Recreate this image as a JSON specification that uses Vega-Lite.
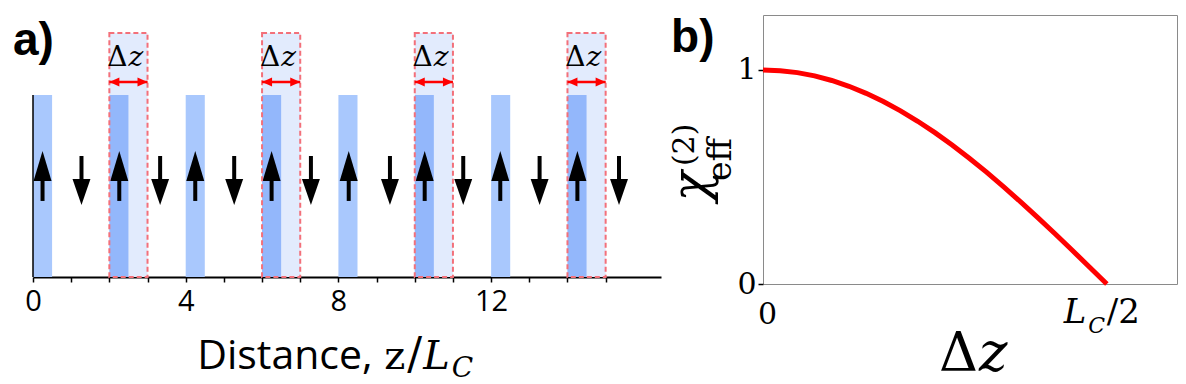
{
  "$schema": "https://vega.github.io/schema/vega-lite/v6.json",
  "padding": {"left": 12, "top": 14, "right": 0, "bottom": 0},
  "background": "white",
  "config": {
    "view": {"stroke": null},
    "font": "Open Sans",
    "axisY": {"labelFont": "DejaVu Serif", "labelFontSize": 30, "labelColor": "black", "labelPadding": 2, "tickColor": "black", "tickWidth": 1.5, "tickSize": 5, "domain": false, "grid": false, "labelFlush": false, "labelOverlap": false}
  },
  "datasets": {
    "light": [{"z0": 0, "z1": 0.5}, {"z0": 4, "z1": 4.5}, {"z0": 8, "z1": 8.5}, {"z0": 12, "z1": 12.5}],
    "boxes": [{"z0": 2, "zm": 2.5, "z1": 3}, {"z0": 6, "zm": 6.5, "z1": 7}, {"z0": 10, "zm": 10.5, "z1": 11}, {"z0": 14, "zm": 14.5, "z1": 15}],
    "up": [{"z": 0.25}, {"z": 2.26}, {"z": 4.25}, {"z": 6.25}, {"z": 8.27}, {"z": 10.26}, {"z": 12.24}, {"z": 14.26}],
    "down": [{"z": 1.27}, {"z": 3.33}, {"z": 5.27}, {"z": 7.28}, {"z": 9.35}, {"z": 11.27}, {"z": 13.27}, {"z": 15.35}],
    "texts": [{"t": "a)"}],
    "curve": [
      {"dz": 0, "chi": 1}, {"dz": 0.025, "chi": 0.9969}, {"dz": 0.05, "chi": 0.9877}, {"dz": 0.075, "chi": 0.9724},
      {"dz": 0.1, "chi": 0.9511}, {"dz": 0.125, "chi": 0.9239}, {"dz": 0.15, "chi": 0.891}, {"dz": 0.175, "chi": 0.8526},
      {"dz": 0.2, "chi": 0.809}, {"dz": 0.225, "chi": 0.7604}, {"dz": 0.25, "chi": 0.7071}, {"dz": 0.275, "chi": 0.6494},
      {"dz": 0.3, "chi": 0.5878}, {"dz": 0.325, "chi": 0.5225}, {"dz": 0.35, "chi": 0.454}, {"dz": 0.375, "chi": 0.3827},
      {"dz": 0.4, "chi": 0.309}, {"dz": 0.425, "chi": 0.2334}, {"dz": 0.45, "chi": 0.1564}, {"dz": 0.475, "chi": 0.0785},
      {"dz": 0.5, "chi": 0}
    ]
  },
  "bounds": "flush",
  "spacing": 102,
  "hconcat": [
    {
      "width": 628,
      "height": 262,
      "layer": [
        {
          "data": {"name": "boxes"},
          "mark": {"type": "rect", "fill": "#e2ebfd"},
          "encoding": {
            "x": {"field": "z0", "type": "quantitative", "title": null, "scale": {"domain": [0, 16.45], "nice": false, "zero": false},
              "axis": {"values": [0,1,2,3,4,5,6,7,8,9,10,11,12,13,14,15], "labelExpr": "datum.value % 4 === 0 ? datum.label : ''",
                "title": null, "grid": false, "domainColor": "black", "domainWidth": 1.8, "tickColor": "black", "tickWidth": 1.5,
                "tickSize": 5, "labelFont": "Open Sans", "labelFontSize": 29, "labelColor": "black", "labelPadding": 5,
                "labelFlush": false, "labelOverlap": false, "labelBound": false}},
            "x2": {"field": "z1"},
            "y": {"datum": 0, "type": "quantitative", "scale": {"domain": [0, 1.44], "nice": false, "zero": false}, "axis": null},
            "y2": {"datum": 1.341}
          }
        },
        {
          "data": {"name": "light"},
          "mark": {"type": "rect", "fill": "#a9c8fd"},
          "encoding": {
            "x": {"field": "z0", "type": "quantitative", "axis": {"values": [0,1,2,3,4,5,6,7,8,9,10,11,12,13,14,15], "labelExpr": "datum.value % 4 === 0 ? datum.label : ''",
                "title": null, "grid": false, "domainColor": "black", "domainWidth": 1.8, "tickColor": "black", "tickWidth": 1.5,
                "tickSize": 5, "labelFont": "Open Sans", "labelFontSize": 29, "labelColor": "black", "labelPadding": 5,
                "labelFlush": false, "labelOverlap": false, "labelBound": false}},
            "x2": {"field": "z1"},
            "y": {"datum": 0, "type": "quantitative", "axis": null},
            "y2": {"datum": 1}
          }
        },
        {
          "data": {"name": "boxes"},
          "mark": {"type": "rect", "fill": "#93b7fb"},
          "encoding": {
            "x": {"field": "z0", "type": "quantitative", "axis": {"values": [0,1,2,3,4,5,6,7,8,9,10,11,12,13,14,15], "labelExpr": "datum.value % 4 === 0 ? datum.label : ''",
                "title": null, "grid": false, "domainColor": "black", "domainWidth": 1.8, "tickColor": "black", "tickWidth": 1.5,
                "tickSize": 5, "labelFont": "Open Sans", "labelFontSize": 29, "labelColor": "black", "labelPadding": 5,
                "labelFlush": false, "labelOverlap": false, "labelBound": false}},
            "x2": {"field": "zm"},
            "y": {"datum": 0, "type": "quantitative", "axis": null},
            "y2": {"datum": 1}
          }
        },
        {
          "data": {"values": [{"z": 0}]},
          "mark": {"type": "rule", "color": "black", "strokeWidth": 1.5},
          "encoding": {
            "x": {"field": "z", "type": "quantitative", "axis": {"values": [0,1,2,3,4,5,6,7,8,9,10,11,12,13,14,15], "labelExpr": "datum.value % 4 === 0 ? datum.label : ''",
                "title": null, "grid": false, "domainColor": "black", "domainWidth": 1.8, "tickColor": "black", "tickWidth": 1.5,
                "tickSize": 5, "labelFont": "Open Sans", "labelFontSize": 29, "labelColor": "black", "labelPadding": 5,
                "labelFlush": false, "labelOverlap": false, "labelBound": false}},
            "y": {"datum": 0, "type": "quantitative", "axis": null},
            "y2": {"datum": 1}
          }
        },
        {
          "data": {"name": "up"},
          "mark": {"type": "rule", "color": "black", "strokeWidth": 4},
          "encoding": {
            "x": {"field": "z", "type": "quantitative", "axis": {"values": [0,1,2,3,4,5,6,7,8,9,10,11,12,13,14,15], "labelExpr": "datum.value % 4 === 0 ? datum.label : ''",
                "title": null, "grid": false, "domainColor": "black", "domainWidth": 1.8, "tickColor": "black", "tickWidth": 1.5,
                "tickSize": 5, "labelFont": "Open Sans", "labelFontSize": 29, "labelColor": "black", "labelPadding": 5,
                "labelFlush": false, "labelOverlap": false, "labelBound": false}},
            "y": {"datum": 0.418, "type": "quantitative", "axis": null},
            "y2": {"datum": 0.56}
          }
        },
        {
          "data": {"name": "up"},
          "mark": {"type": "point", "shape": "M0,0L0.6,2L-0.6,2Z", "size": 900, "filled": true, "fill": "black", "strokeWidth": 0, "opacity": 1},
          "encoding": {
            "x": {"field": "z", "type": "quantitative", "axis": {"values": [0,1,2,3,4,5,6,7,8,9,10,11,12,13,14,15], "labelExpr": "datum.value % 4 === 0 ? datum.label : ''",
                "title": null, "grid": false, "domainColor": "black", "domainWidth": 1.8, "tickColor": "black", "tickWidth": 1.5,
                "tickSize": 5, "labelFont": "Open Sans", "labelFontSize": 29, "labelColor": "black", "labelPadding": 5,
                "labelFlush": false, "labelOverlap": false, "labelBound": false}},
            "y": {"datum": 0.693, "type": "quantitative", "axis": null}
          }
        },
        {
          "data": {"name": "down"},
          "mark": {"type": "rule", "color": "black", "strokeWidth": 4},
          "encoding": {
            "x": {"field": "z", "type": "quantitative", "axis": {"values": [0,1,2,3,4,5,6,7,8,9,10,11,12,13,14,15], "labelExpr": "datum.value % 4 === 0 ? datum.label : ''",
                "title": null, "grid": false, "domainColor": "black", "domainWidth": 1.8, "tickColor": "black", "tickWidth": 1.5,
                "tickSize": 5, "labelFont": "Open Sans", "labelFontSize": 29, "labelColor": "black", "labelPadding": 5,
                "labelFlush": false, "labelOverlap": false, "labelBound": false}},
            "y": {"datum": 0.665, "type": "quantitative", "axis": null},
            "y2": {"datum": 0.47}
          }
        },
        {
          "data": {"name": "down"},
          "mark": {"type": "point", "shape": "M0,0L0.69,-2L-0.69,-2Z", "size": 676, "filled": true, "fill": "black", "strokeWidth": 0, "opacity": 1},
          "encoding": {
            "x": {"field": "z", "type": "quantitative", "axis": {"values": [0,1,2,3,4,5,6,7,8,9,10,11,12,13,14,15], "labelExpr": "datum.value % 4 === 0 ? datum.label : ''",
                "title": null, "grid": false, "domainColor": "black", "domainWidth": 1.8, "tickColor": "black", "tickWidth": 1.5,
                "tickSize": 5, "labelFont": "Open Sans", "labelFontSize": 29, "labelColor": "black", "labelPadding": 5,
                "labelFlush": false, "labelOverlap": false, "labelBound": false}},
            "y": {"datum": 0.396, "type": "quantitative", "axis": null}
          }
        },
        {
          "data": {"name": "boxes"},
          "mark": {"type": "rect", "filled": false, "stroke": "#f3707a", "strokeDash": [5, 3], "strokeWidth": 2},
          "encoding": {
            "x": {"field": "z0", "type": "quantitative", "axis": {"values": [0,1,2,3,4,5,6,7,8,9,10,11,12,13,14,15], "labelExpr": "datum.value % 4 === 0 ? datum.label : ''",
                "title": null, "grid": false, "domainColor": "black", "domainWidth": 1.8, "tickColor": "black", "tickWidth": 1.5,
                "tickSize": 5, "labelFont": "Open Sans", "labelFontSize": 29, "labelColor": "black", "labelPadding": 5,
                "labelFlush": false, "labelOverlap": false, "labelBound": false}},
            "x2": {"field": "z1"},
            "y": {"datum": 0, "type": "quantitative", "axis": null},
            "y2": {"datum": 1.341}
          }
        },
        {
          "data": {"name": "boxes"},
          "mark": {"type": "rule", "color": "#ff0000", "strokeWidth": 2.5},
          "encoding": {
            "x": {"field": "z0", "type": "quantitative", "axis": {"values": [0,1,2,3,4,5,6,7,8,9,10,11,12,13,14,15], "labelExpr": "datum.value % 4 === 0 ? datum.label : ''",
                "title": null, "grid": false, "domainColor": "black", "domainWidth": 1.8, "tickColor": "black", "tickWidth": 1.5,
                "tickSize": 5, "labelFont": "Open Sans", "labelFontSize": 29, "labelColor": "black", "labelPadding": 5,
                "labelFlush": false, "labelOverlap": false, "labelBound": false}},
            "x2": {"field": "z1"},
            "y": {"datum": 1.072, "type": "quantitative", "axis": null}
          }
        },
        {
          "data": {"name": "boxes"},
          "mark": {"type": "point", "shape": "M0,0L2,-0.9L2,0.9Z", "size": 100, "filled": true, "fill": "#ff0000", "strokeWidth": 0, "opacity": 1},
          "encoding": {
            "x": {"field": "z0", "type": "quantitative", "axis": {"values": [0,1,2,3,4,5,6,7,8,9,10,11,12,13,14,15], "labelExpr": "datum.value % 4 === 0 ? datum.label : ''",
                "title": null, "grid": false, "domainColor": "black", "domainWidth": 1.8, "tickColor": "black", "tickWidth": 1.5,
                "tickSize": 5, "labelFont": "Open Sans", "labelFontSize": 29, "labelColor": "black", "labelPadding": 5,
                "labelFlush": false, "labelOverlap": false, "labelBound": false}},
            "y": {"datum": 1.072, "type": "quantitative", "axis": null}
          }
        },
        {
          "data": {"name": "boxes"},
          "mark": {"type": "point", "shape": "M0,0L-2,-0.9L-2,0.9Z", "size": 100, "filled": true, "fill": "#ff0000", "strokeWidth": 0, "opacity": 1},
          "encoding": {
            "x": {"field": "z1", "type": "quantitative", "axis": {"values": [0,1,2,3,4,5,6,7,8,9,10,11,12,13,14,15], "labelExpr": "datum.value % 4 === 0 ? datum.label : ''",
                "title": null, "grid": false, "domainColor": "black", "domainWidth": 1.8, "tickColor": "black", "tickWidth": 1.5,
                "tickSize": 5, "labelFont": "Open Sans", "labelFontSize": 29, "labelColor": "black", "labelPadding": 5,
                "labelFlush": false, "labelOverlap": false, "labelBound": false}},
            "y": {"datum": 1.072, "type": "quantitative", "axis": null}
          }
        },
        {
          "data": {"name": "boxes"},
          "mark": {"type": "text", "text": "Δ", "align": "right", "baseline": "alphabetic", "dx": -1, "font": "DejaVu Serif", "fontSize": 28, "color": "black"},
          "encoding": {
            "x": {"field": "zm", "type": "quantitative", "axis": {"values": [0,1,2,3,4,5,6,7,8,9,10,11,12,13,14,15], "labelExpr": "datum.value % 4 === 0 ? datum.label : ''",
                "title": null, "grid": false, "domainColor": "black", "domainWidth": 1.8, "tickColor": "black", "tickWidth": 1.5,
                "tickSize": 5, "labelFont": "Open Sans", "labelFontSize": 29, "labelColor": "black", "labelPadding": 5,
                "labelFlush": false, "labelOverlap": false, "labelBound": false}},
            "y": {"datum": 1.16, "type": "quantitative", "axis": null}
          }
        },
        {
          "data": {"name": "boxes"},
          "mark": {"type": "text", "text": "z", "align": "left", "baseline": "alphabetic", "font": "DejaVu Serif", "fontStyle": "italic", "fontSize": 28, "color": "black"},
          "encoding": {
            "x": {"field": "zm", "type": "quantitative", "axis": {"values": [0,1,2,3,4,5,6,7,8,9,10,11,12,13,14,15], "labelExpr": "datum.value % 4 === 0 ? datum.label : ''",
                "title": null, "grid": false, "domainColor": "black", "domainWidth": 1.8, "tickColor": "black", "tickWidth": 1.5,
                "tickSize": 5, "labelFont": "Open Sans", "labelFontSize": 29, "labelColor": "black", "labelPadding": 5,
                "labelFlush": false, "labelOverlap": false, "labelBound": false}},
            "y": {"datum": 1.16, "type": "quantitative", "axis": null}
          }
        },
        {
          "data": {"values": [{"t": "a)", "x": -0.524, "y": 1.22, "font": "Liberation Sans", "size": 46, "style": "normal", "weight": "bold"}]},
          "mark": {"type": "text", "align": "left", "baseline": "alphabetic", "font": "Liberation Sans", "fontWeight": "bold", "fontSize": 46, "color": "black"},
          "encoding": {
            "text": {"field": "t"},
            "x": {"datum": -0.524, "type": "quantitative", "axis": {"values": [0,1,2,3,4,5,6,7,8,9,10,11,12,13,14,15], "labelExpr": "datum.value % 4 === 0 ? datum.label : ''",
                "title": null, "grid": false, "domainColor": "black", "domainWidth": 1.8, "tickColor": "black", "tickWidth": 1.5,
                "tickSize": 5, "labelFont": "Open Sans", "labelFontSize": 29, "labelColor": "black", "labelPadding": 5,
                "labelFlush": false, "labelOverlap": false, "labelBound": false}},
            "y": {"datum": 1.22, "type": "quantitative", "axis": null}
          }
        },
        {
          "data": {"values": [{"t": "Distance,"}]},
          "mark": {"type": "text", "align": "left", "baseline": "alphabetic", "font": "Open Sans", "fontSize": 41, "color": "black"},
          "encoding": {
            "text": {"field": "t"},
            "x": {"datum": 4.3, "type": "quantitative", "axis": {"values": [0,1,2,3,4,5,6,7,8,9,10,11,12,13,14,15], "labelExpr": "datum.value % 4 === 0 ? datum.label : ''",
                "title": null, "grid": false, "domainColor": "black", "domainWidth": 1.8, "tickColor": "black", "tickWidth": 1.5,
                "tickSize": 5, "labelFont": "Open Sans", "labelFontSize": 29, "labelColor": "black", "labelPadding": 5,
                "labelFlush": false, "labelOverlap": false, "labelBound": false}},
            "y": {"datum": -0.506, "type": "quantitative", "axis": null}
          }
        },
        {
          "data": {"values": [{"t": "z"}]},
          "mark": {"type": "text", "align": "left", "baseline": "alphabetic", "font": "DejaVu Serif", "fontSize": 40, "color": "black"},
          "encoding": {
            "text": {"field": "t"},
            "x": {"datum": 9.2, "type": "quantitative", "axis": {"values": [0,1,2,3,4,5,6,7,8,9,10,11,12,13,14,15], "labelExpr": "datum.value % 4 === 0 ? datum.label : ''",
                "title": null, "grid": false, "domainColor": "black", "domainWidth": 1.8, "tickColor": "black", "tickWidth": 1.5,
                "tickSize": 5, "labelFont": "Open Sans", "labelFontSize": 29, "labelColor": "black", "labelPadding": 5,
                "labelFlush": false, "labelOverlap": false, "labelBound": false}},
            "y": {"datum": -0.506, "type": "quantitative", "axis": null}
          }
        },
        {
          "data": {"values": [{"t": "/"}]},
          "mark": {"type": "text", "align": "left", "baseline": "alphabetic", "font": "DejaVu Serif", "fontSize": 44, "color": "black"},
          "encoding": {
            "text": {"field": "t"},
            "x": {"datum": 9.8, "type": "quantitative", "axis": {"values": [0,1,2,3,4,5,6,7,8,9,10,11,12,13,14,15], "labelExpr": "datum.value % 4 === 0 ? datum.label : ''",
                "title": null, "grid": false, "domainColor": "black", "domainWidth": 1.8, "tickColor": "black", "tickWidth": 1.5,
                "tickSize": 5, "labelFont": "Open Sans", "labelFontSize": 29, "labelColor": "black", "labelPadding": 5,
                "labelFlush": false, "labelOverlap": false, "labelBound": false}},
            "y": {"datum": -0.506, "type": "quantitative", "axis": null}
          }
        },
        {
          "data": {"values": [{"t": "L"}]},
          "mark": {"type": "text", "align": "left", "baseline": "alphabetic", "font": "DejaVu Serif", "fontStyle": "italic", "fontSize": 40, "color": "black"},
          "encoding": {
            "text": {"field": "t"},
            "x": {"datum": 10.22, "type": "quantitative", "axis": {"values": [0,1,2,3,4,5,6,7,8,9,10,11,12,13,14,15], "labelExpr": "datum.value % 4 === 0 ? datum.label : ''",
                "title": null, "grid": false, "domainColor": "black", "domainWidth": 1.8, "tickColor": "black", "tickWidth": 1.5,
                "tickSize": 5, "labelFont": "Open Sans", "labelFontSize": 29, "labelColor": "black", "labelPadding": 5,
                "labelFlush": false, "labelOverlap": false, "labelBound": false}},
            "y": {"datum": -0.506, "type": "quantitative", "axis": null}
          }
        },
        {
          "data": {"values": [{"t": "C"}]},
          "mark": {"type": "text", "align": "left", "baseline": "alphabetic", "font": "DejaVu Serif", "fontStyle": "italic", "fontSize": 28, "color": "black"},
          "encoding": {
            "text": {"field": "t"},
            "x": {"datum": 10.97, "type": "quantitative", "axis": {"values": [0,1,2,3,4,5,6,7,8,9,10,11,12,13,14,15], "labelExpr": "datum.value % 4 === 0 ? datum.label : ''",
                "title": null, "grid": false, "domainColor": "black", "domainWidth": 1.8, "tickColor": "black", "tickWidth": 1.5,
                "tickSize": 5, "labelFont": "Open Sans", "labelFontSize": 29, "labelColor": "black", "labelPadding": 5,
                "labelFlush": false, "labelOverlap": false, "labelBound": false}},
            "y": {"datum": -0.55, "type": "quantitative", "axis": null}
          }
        }
      ]
    },
    {
      "width": 414,
      "height": 269,
      "view": {"stroke": "#8a8a8a", "strokeWidth": 1},
      "layer": [
        {
          "data": {"name": "curve"},
          "mark": {"type": "line", "color": "#ff0000", "strokeWidth": 5},
          "encoding": {
            "x": {"field": "dz", "type": "quantitative", "title": null, "scale": {"domain": [0, 0.602], "nice": false, "zero": false},
              "axis": {"values": [0], "format": ".0f", "title": null, "grid": false, "domain": false, "ticks": false, "labelFont": "DejaVu Serif",
                "labelFontSize": 30, "labelColor": "black", "labelPadding": 15, "labelOffset": 4, "labelFlush": false, "labelBound": false}},
            "y": {"field": "chi", "type": "quantitative", "title": null, "scale": {"domain": [0, 1.257], "nice": false, "zero": false},
              "axis": {"values": [0, 1], "format": ".0f", "title": null, "grid": false, "domain": false, "tickSize": 5, "tickWidth": 1.5, "tickColor": "black",
                "labelFont": "DejaVu Serif", "labelFontSize": 30, "labelColor": "black", "labelPadding": 2, "labelFlush": false, "labelBound": false}}
          }
        },
        {
          "data": {"values": [{"t": "b)"}]},
          "mark": {"type": "text", "align": "left", "baseline": "alphabetic", "font": "Liberation Sans", "fontWeight": "bold", "fontSize": 46, "color": "black"},
          "encoding": {
            "text": {"field": "t"},
            "x": {"datum": -0.1337, "type": "quantitative", "title": null},
            "y": {"datum": 1.085, "type": "quantitative", "title": null}
          }
        },
        {
          "data": {"values": [{"t": "χ"}]},
          "mark": {"type": "text", "align": "left", "baseline": "alphabetic", "angle": 270, "font": "DejaVu Serif", "fontStyle": "italic", "fontSize": 50, "color": "black"},
          "encoding": {
            "text": {"field": "t"},
            "x": {"datum": -0.0814, "type": "quantitative", "title": null},
            "y": {"datum": 0.385, "type": "quantitative", "title": null}
          }
        },
        {
          "data": {"values": [{"t": "(2)"}]},
          "mark": {"type": "text", "align": "left", "baseline": "alphabetic", "angle": 270, "font": "DejaVu Serif", "fontSize": 30, "color": "black"},
          "encoding": {
            "text": {"field": "t"},
            "x": {"datum": -0.1, "type": "quantitative", "title": null},
            "y": {"datum": 0.551, "type": "quantitative", "title": null}
          }
        },
        {
          "data": {"values": [{"t": "eff"}]},
          "mark": {"type": "text", "align": "left", "baseline": "alphabetic", "angle": 270, "font": "DejaVu Serif", "fontSize": 33, "color": "black"},
          "encoding": {
            "text": {"field": "t"},
            "x": {"datum": -0.0465, "type": "quantitative", "title": null},
            "y": {"datum": 0.481, "type": "quantitative", "title": null}
          }
        },
        {
          "data": {"values": [{"t": "L"}]},
          "mark": {"type": "text", "align": "left", "baseline": "alphabetic", "font": "DejaVu Serif", "fontStyle": "italic", "fontSize": 34, "color": "black"},
          "encoding": {
            "text": {"field": "t"},
            "x": {"datum": 0.4375, "type": "quantitative", "title": null},
            "y": {"datum": -0.182, "type": "quantitative", "title": null}
          }
        },
        {
          "data": {"values": [{"t": "C"}]},
          "mark": {"type": "text", "align": "left", "baseline": "alphabetic", "font": "DejaVu Serif", "fontStyle": "italic", "fontSize": 22, "color": "black"},
          "encoding": {
            "text": {"field": "t"},
            "x": {"datum": 0.473, "type": "quantitative", "title": null},
            "y": {"datum": -0.229, "type": "quantitative", "title": null}
          }
        },
        {
          "data": {"values": [{"t": "/2"}]},
          "mark": {"type": "text", "align": "left", "baseline": "alphabetic", "font": "DejaVu Serif", "fontSize": 34, "color": "black"},
          "encoding": {
            "text": {"field": "t"},
            "x": {"datum": 0.5, "type": "quantitative", "title": null},
            "y": {"datum": -0.182, "type": "quantitative", "title": null}
          }
        },
        {
          "data": {"values": [{"t": "Δ"}]},
          "mark": {"type": "text", "align": "left", "baseline": "alphabetic", "font": "DejaVu Serif", "fontSize": 54, "color": "black"},
          "encoding": {
            "text": {"field": "t"},
            "x": {"datum": 0.2558, "type": "quantitative", "title": null},
            "y": {"datum": -0.4065, "type": "quantitative", "title": null}
          }
        },
        {
          "data": {"values": [{"t": "z"}]},
          "mark": {"type": "text", "align": "left", "baseline": "alphabetic", "font": "DejaVu Serif", "fontStyle": "italic", "fontSize": 54, "color": "black"},
          "encoding": {
            "text": {"field": "t"},
            "x": {"datum": 0.314, "type": "quantitative", "title": null},
            "y": {"datum": -0.4065, "type": "quantitative", "title": null}
          }
        }
      ]
    }
  ]
}
